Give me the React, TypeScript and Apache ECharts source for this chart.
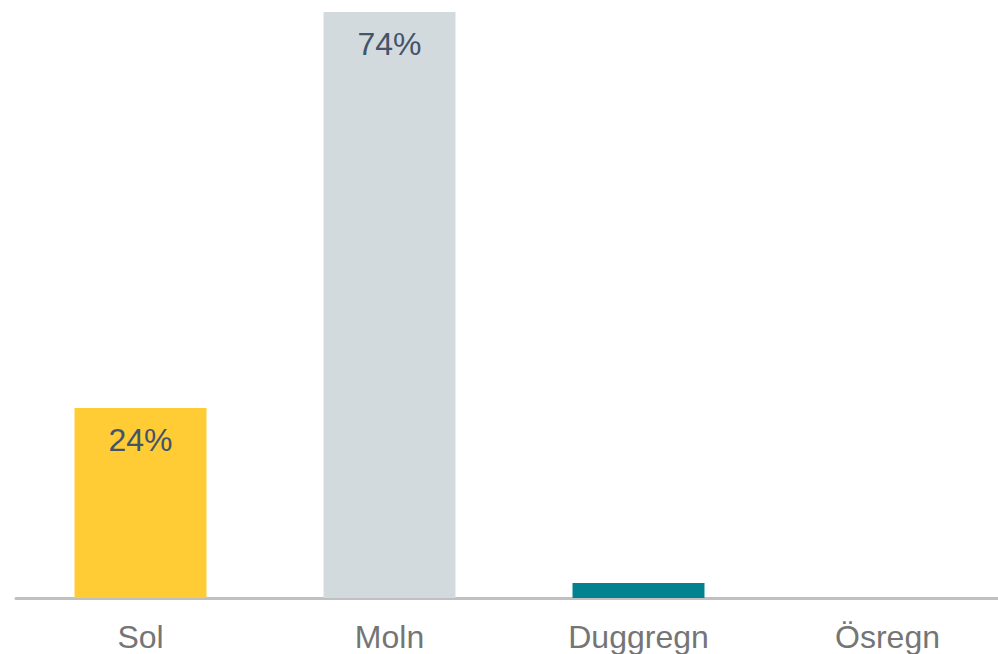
import React, { useEffect, useRef } from "react";
import * as echarts from "echarts";

const categories = ["Sol", "Moln", "Duggregn", "Ösregn"];
const values = [24, 74, 1.9, 0];
const colors = ["#ffcc36", "#d2dade", "#00838f", "#bdbdbd"];

export default function App() {
  const ref = useRef<HTMLDivElement>(null);
  useEffect(() => {
    if (!ref.current) return;
    const chart = echarts.init(ref.current, undefined, { renderer: "svg" });
    chart.setOption({
      animation: false,
      grid: { left: 16, width: 996, top: 12, bottom: 56, containLabel: false },
      xAxis: {
        type: "category",
        data: categories,
        axisLine: { show: true, lineStyle: { color: "#c0c0c0", width: 3 } },
        axisTick: { show: false },
        axisLabel: {
          color: "#757575",
          fontSize: 32,
          fontFamily: "Liberation Sans, Arial, sans-serif",
          margin: 23,
        },
      },
      yAxis: {
        type: "value",
        min: 0,
        max: 74,
        show: false,
        splitLine: { show: false },
      },
      series: [
        {
          type: "bar",
          barCategoryGap: "47%",
          data: values.map((v, i) => ({
            value: v,
            itemStyle: { color: colors[i] },
            label: { show: v >= 5 },
          })),
          label: {
            show: true,
            position: "insideTop",
            distance: 16,
            formatter: (p: any) => `${Math.round(p.value)}%`,
            color: "#44546a",
            fontSize: 32,
            fontFamily: "Liberation Sans, Arial, sans-serif",
          },
        },
      ],
    });
    return () => chart.dispose();
  }, []);
  return (
    <div style={{ position: "absolute", left: 0, top: 0, width: 998, height: 654, overflow: "hidden" }}>
      <div ref={ref} style={{ width: 1030, height: 654 }} />
    </div>
  );
}
